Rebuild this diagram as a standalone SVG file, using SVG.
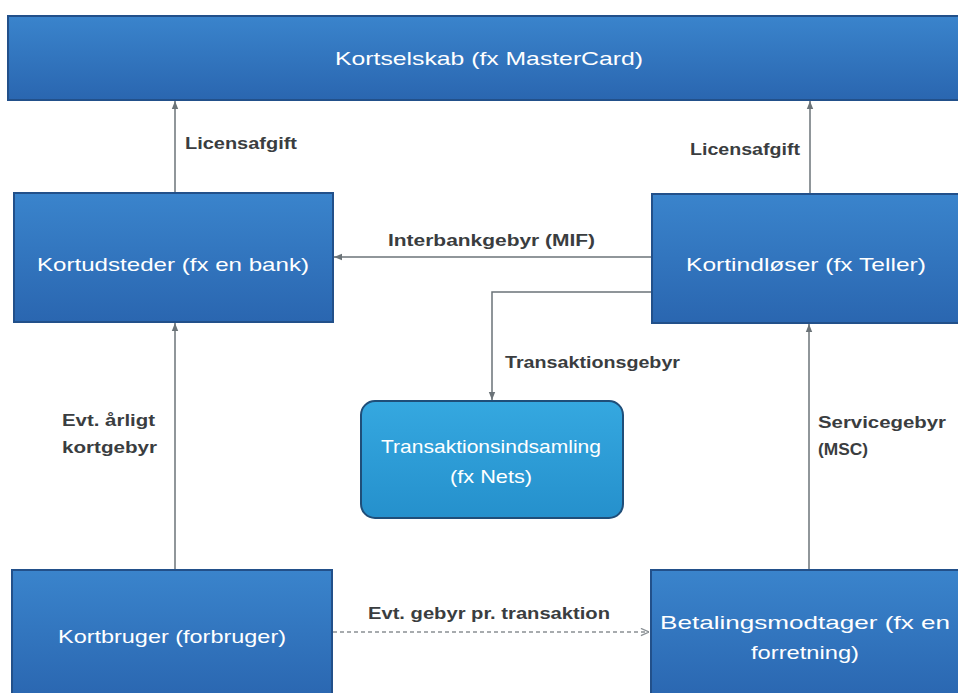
<svg xmlns="http://www.w3.org/2000/svg" width="958" height="693" viewBox="0 0 958 693">
<defs>
<linearGradient id="gBlue" x1="0" y1="0" x2="0" y2="1">
<stop offset="0" stop-color="#3a84cc"/>
<stop offset="1" stop-color="#2a66b0"/>
</linearGradient>
<linearGradient id="gCyan" x1="0" y1="0" x2="0" y2="1">
<stop offset="0" stop-color="#35a8e0"/>
<stop offset="1" stop-color="#2590cc"/>
</linearGradient>
<marker id="arr" viewBox="0 0 10 10" refX="10" refY="5" markerWidth="8" markerHeight="8" orient="auto" markerUnits="userSpaceOnUse">
<path d="M0,1 L10,5 L0,9 z" fill="#6b7378"/>
</marker>
<marker id="arrOpen" viewBox="0 0 10 10" refX="10" refY="5" markerWidth="9" markerHeight="9" orient="auto" markerUnits="userSpaceOnUse">
<path d="M1,1 L10,5 L1,9" fill="none" stroke="#8a9094" stroke-width="1.5"/>
</marker>
</defs>
<style>
.box{fill:url(#gBlue);stroke:#22508a;stroke-width:2}
.rbox{fill:url(#gCyan);stroke:#1f4e79;stroke-width:2}
.nt{font-family:"Liberation Sans",Arial,sans-serif;font-size:19px;fill:#ffffff;text-anchor:middle}
.et{font-family:"Liberation Sans",Arial,sans-serif;font-size:16px;font-weight:bold;fill:#3a3d40}
.ln{fill:none;stroke:#6b7378;stroke-width:1.5}
.dash{fill:none;stroke:#8a9094;stroke-width:1.5;stroke-dasharray:4 3}
</style>
<rect width="958" height="693" fill="#ffffff"/>

<g id="connectors">
<line class="ln" x1="175" y1="193" x2="175" y2="101" marker-end="url(#arr)"/>
<line class="ln" x1="810" y1="194" x2="810" y2="101" marker-end="url(#arr)"/>
<line class="ln" x1="652" y1="257" x2="334" y2="257" marker-end="url(#arr)"/>
<path class="ln" d="M652,292 H492 V400" marker-end="url(#arr)"/>
<line class="ln" x1="175" y1="570" x2="175" y2="323" marker-end="url(#arr)"/>
<line class="ln" x1="809" y1="570" x2="809" y2="324" marker-end="url(#arr)"/>
<line class="dash" x1="333" y1="632" x2="649" y2="632" marker-end="url(#arrOpen)"/>
<text class="et" x="185" y="149" textLength="112" lengthAdjust="spacingAndGlyphs">Licensafgift</text>
<text class="et" x="690" y="155" textLength="110" lengthAdjust="spacingAndGlyphs">Licensafgift</text>
<text class="et" x="388" y="246" textLength="207" lengthAdjust="spacingAndGlyphs">Interbankgebyr (MIF)</text>
<text class="et" x="505" y="368" textLength="175" lengthAdjust="spacingAndGlyphs">Transaktionsgebyr</text>
<text class="et" x="62" y="426" textLength="93" lengthAdjust="spacingAndGlyphs">Evt. årligt</text>
<text class="et" x="62" y="453" textLength="95" lengthAdjust="spacingAndGlyphs">kortgebyr</text>
<text class="et" x="818" y="428" textLength="128" lengthAdjust="spacingAndGlyphs">Servicegebyr</text>
<text class="et" x="818" y="455" textLength="50" lengthAdjust="spacingAndGlyphs">(MSC)</text>
<text class="et" x="368" y="619" textLength="242" lengthAdjust="spacingAndGlyphs">Evt. gebyr pr. transaktion</text>
</g>

<g id="kortselskab">
<rect class="box" x="8" y="16" width="960" height="84"/>
<text class="nt" x="489" y="65" textLength="308" lengthAdjust="spacingAndGlyphs">Kortselskab (fx MasterCard)</text>
</g>
<g id="kortudsteder">
<rect class="box" x="14" y="193" width="319" height="129"/>
<text class="nt" x="173" y="271" textLength="272" lengthAdjust="spacingAndGlyphs">Kortudsteder (fx en bank)</text>
</g>
<g id="kortindloeser">
<rect class="box" x="652" y="194" width="316" height="129"/>
<text class="nt" x="806" y="271" textLength="240" lengthAdjust="spacingAndGlyphs">Kortindløser (fx Teller)</text>
</g>
<g id="transaktionsindsamling">
<rect class="rbox" x="361" y="401" width="262" height="117" rx="14"/>
<text class="nt" x="491" y="453" textLength="220" lengthAdjust="spacingAndGlyphs">Transaktionsindsamling</text>
<text class="nt" x="491" y="483" textLength="82" lengthAdjust="spacingAndGlyphs">(fx Nets)</text>
</g>
<g id="kortbruger">
<rect class="box" x="12" y="570" width="320" height="130"/>
<text class="nt" x="172" y="643" textLength="228" lengthAdjust="spacingAndGlyphs">Kortbruger (forbruger)</text>
</g>
<g id="betalingsmodtager">
<rect class="box" x="651" y="570" width="317" height="130"/>
<text class="nt" x="805" y="629" textLength="290" lengthAdjust="spacingAndGlyphs">Betalingsmodtager (fx en</text>
<text class="nt" x="805" y="659" textLength="108" lengthAdjust="spacingAndGlyphs">forretning)</text>
</g>
</svg>
